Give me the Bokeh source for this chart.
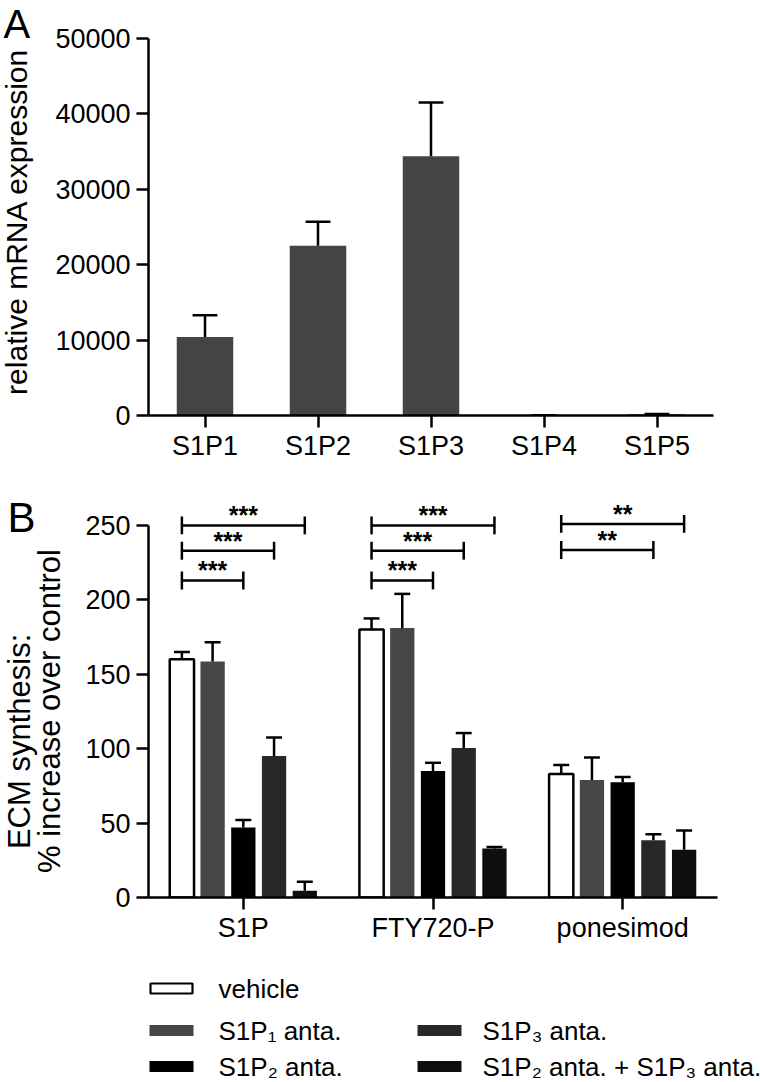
import math
from bokeh.plotting import figure
from bokeh.models import Range1d, FixedTicker
from bokeh.layouts import column, row
from bokeh.core.properties import value
from bokeh.embed import file_html
from bokeh.resources import INLINE

FONT = "Liberation Sans"

# ---------------- data: panel A ----------------
receptors = ["S1P1", "S1P2", "S1P3", "S1P4", "S1P5"]
mrna_mean = [10400, 22500, 34400, 20, 150]
mrna_sem = [2900, 3200, 7100, 10, 40]
mrna_ticks = [0, 10000, 20000, 30000, 40000, 50000]

# ---------------- data: panel B ----------------
agonists = ["S1P", "FTY720-P", "ponesimod"]
treatments = ["vehicle", "S1P\u2081 anta.", "S1P\u2082 anta.", "S1P\u2083 anta.",
              "S1P\u2082 anta. + S1P\u2083 anta."]
vehicle_mean = [160, 180, 83]
vehicle_sem = [5, 7.5, 6]
s1p1_mean = [158.5, 181, 79]
s1p1_sem = [13, 23, 15]
s1p2_mean = [47, 85, 77.5]
s1p2_sem = [5, 5.5, 3.5]
s1p3_mean = [95, 100.5, 38.5]
s1p3_sem = [12.5, 10, 4]
combo_mean = [4.5, 33, 32]
combo_sem = [6, 1, 13]
ecm_ticks = [0, 50, 100, 150, 200, 250]

# significance brackets (vehicle vs. target treatment index)
sig_group = [0, 0, 0, 1, 1, 1, 2, 2]
sig_target = [2, 3, 4, 2, 3, 4, 3, 4]
sig_level = [213, 233, 250, 213, 233, 250, 233.5, 251]
sig_text = ["***", "***", "***", "***", "***", "***", "**", "**"]

fills = ["white", "#464646", "#000000", "#282828", "#0e0e0e"]
means = [vehicle_mean, s1p1_mean, s1p2_mean, s1p3_mean, combo_mean]
sems = [vehicle_sem, s1p1_sem, s1p2_sem, s1p3_sem, combo_sem]


def style_axes(p):
    for ax in p.axis:
        ax.axis_line_width = 2.5
        ax.axis_line_color = "black"
        ax.major_tick_line_width = 2.5
        ax.major_tick_line_color = "black"
        ax.major_tick_out = 12
        ax.major_tick_in = 0
        ax.minor_tick_line_color = None
        ax.major_label_text_font = FONT
        ax.major_label_text_font_size = "27px"
        ax.major_label_text_color = "black"
    p.grid.visible = False
    p.outline_line_color = None


def strip(w, h, bottom):
    # frame covers the figure from the top down to `bottom` px above its lower edge;
    s = figure(width=w, height=h, x_range=Range1d(0, w), y_range=Range1d(bottom, h),
               output_backend="svg", toolbar_location=None, min_border=0,
               min_border_bottom=bottom, x_axis_location=None, y_axis_location=None)
    s.grid.visible = False
    s.outline_line_color = None
    return s


# ---------------- panel A ----------------
HA = 470
A_BOTTOM = 55
sA = strip(50, HA, A_BOTTOM)
sA.text(x=[3], y=[HA - 23], text=["A"], text_font=value(FONT), text_font_size="40px",
        text_baseline="middle", text_align="left", text_color="black")
sA.text(x=[16], y=[HA - 221], text=["relative mRNA expression"], angle=math.pi / 2,
        text_font=value(FONT), text_font_size="30px", text_baseline="middle",
        text_align="center", text_color="black")

# frame top at the figure top; the axis itself stops at 50000
pA = figure(width=710, height=HA, x_range=Range1d(0, 5), y_range=Range1d(0, 55040),
            output_backend="svg", toolbar_location=None,
            min_border_left=98, min_border_right=47, min_border_top=0,
            min_border_bottom=A_BOTTOM)
style_axes(pA)
pA.yaxis.bounds = (0, 50000)
xA = [i + 0.5 for i in range(len(receptors))]
topA = [m + s for m, s in zip(mrna_mean, mrna_sem)]
pA.vbar(x=xA, top=mrna_mean, bottom=0, width=0.5, fill_color="#444444", line_color=None)
pA.segment(x0=xA, y0=mrna_mean, x1=xA, y1=topA, line_width=2.5, line_color="black")
pA.segment(x0=[x - 0.11 for x in xA], y0=topA, x1=[x + 0.11 for x in xA], y1=topA,
           line_width=2.5, line_color="black")
pA.xaxis.ticker = FixedTicker(ticks=xA)
pA.xaxis.major_label_overrides = {x: r for x, r in zip(xA, receptors)}
pA.xaxis.major_label_standoff = 3
pA.yaxis.ticker = FixedTicker(ticks=mrna_ticks)
pA.yaxis.major_label_standoff = 6

# ---------------- panel B ----------------
HB = 475
B_BOTTOM = 40
sB = strip(75, HB, B_BOTTOM)
sB.text(x=[7], y=[HB - 48], text=["B"], text_font=value(FONT), text_font_size="42px",
        text_baseline="middle", text_align="left", text_color="black")
sB.text(x=[19, 49], y=[HB - 276, HB - 245],
        text=["ECM synthesis:", "% increase over control"], angle=math.pi / 2,
        text_font=value(FONT), text_font_size="31px", text_baseline="middle",
        text_align="center", text_color="black")

pB = figure(width=685, height=HB, x_range=Range1d(0, 3), y_range=Range1d(0, 286.9),
            output_backend="svg", toolbar_location=None,
            min_border_left=73, min_border_right=43, min_border_top=0,
            min_border_bottom=B_BOTTOM)
style_axes(pB)
pB.yaxis.bounds = (0, 250)
step = 0.162
bw = 0.128
gx = [g + 0.5 for g in range(len(agonists))]
for i, (m, s) in enumerate(zip(means, sems)):
    xs = [g + (i - 2) * step for g in gx]
    tops = [a + b for a, b in zip(m, s)]
    if i == 0:
        pB.vbar(x=xs, top=m, bottom=0, width=bw, fill_color="white",
                line_color="black", line_width=2.5)
    else:
        pB.vbar(x=xs, top=m, bottom=0, width=bw, fill_color=fills[i], line_color=None)
    pB.segment(x0=xs, y0=m, x1=xs, y1=tops, line_width=2.5, line_color="black")
    pB.segment(x0=[x - 0.042 for x in xs], y0=tops, x1=[x + 0.042 for x in xs], y1=tops,
               line_width=2.5, line_color="black")

bx0 = [gx[g] + (0 - 2) * step for g in sig_group]
bx1 = [gx[g] + (t - 2) * step for g, t in zip(sig_group, sig_target)]
pB.segment(x0=bx0, y0=sig_level, x1=bx1, y1=sig_level, line_width=2.5, line_color="black")
pB.segment(x0=bx0, y0=[l - 6 for l in sig_level], x1=bx0, y1=[l + 6 for l in sig_level],
           line_width=2.5, line_color="black")
pB.segment(x0=bx1, y0=[l - 6 for l in sig_level], x1=bx1, y1=[l + 6 for l in sig_level],
           line_width=2.5, line_color="black")
pB.text(x=[(a + b) / 2 for a, b in zip(bx0, bx1)], y=sig_level, text=sig_text,
        text_font=value(FONT), text_font_style="bold", text_font_size="25px",
        text_align="center", text_baseline="alphabetic", y_offset=-10, text_color="black")

pB.xaxis.ticker = FixedTicker(ticks=gx)
pB.xaxis.major_label_overrides = {x: a for x, a in zip(gx, agonists)}
pB.xaxis.major_label_standoff = 3
pB.yaxis.ticker = FixedTicker(ticks=ecm_ticks)
pB.yaxis.major_label_standoff = 6

# ---------------- legend ----------------
HL = 137
pL = strip(760, HL, 0)
leg_col = [0, 0, 0, 1, 1]
leg_row = [0, 1, 2, 1, 2]
col_left = [149, 417]
col_text = [218, 482]
row_y = [43, 85, 121]
sw_x = [col_left[c] + 22 for c in leg_col]
sw_y = [HL - row_y[r] for r in leg_row]
pL.rect(x=sw_x[:1], y=sw_y[:1], width=42, height=10, fill_color="white",
        line_color="black", line_width=2.2)
pL.rect(x=sw_x[1:], y=sw_y[1:], width=44, height=11, fill_color=fills[1:], line_color=None)
pL.text(x=[col_text[c] for c in leg_col], y=sw_y, text=treatments,
        text_font=value(FONT), text_font_size="26px", text_align="left",
        text_baseline="middle", text_color="black")

layout = column(row(sA, pA, spacing=0), row(sB, pB, spacing=0), pL, spacing=0)
open("out.html", "w").write(file_html(layout, INLINE))
